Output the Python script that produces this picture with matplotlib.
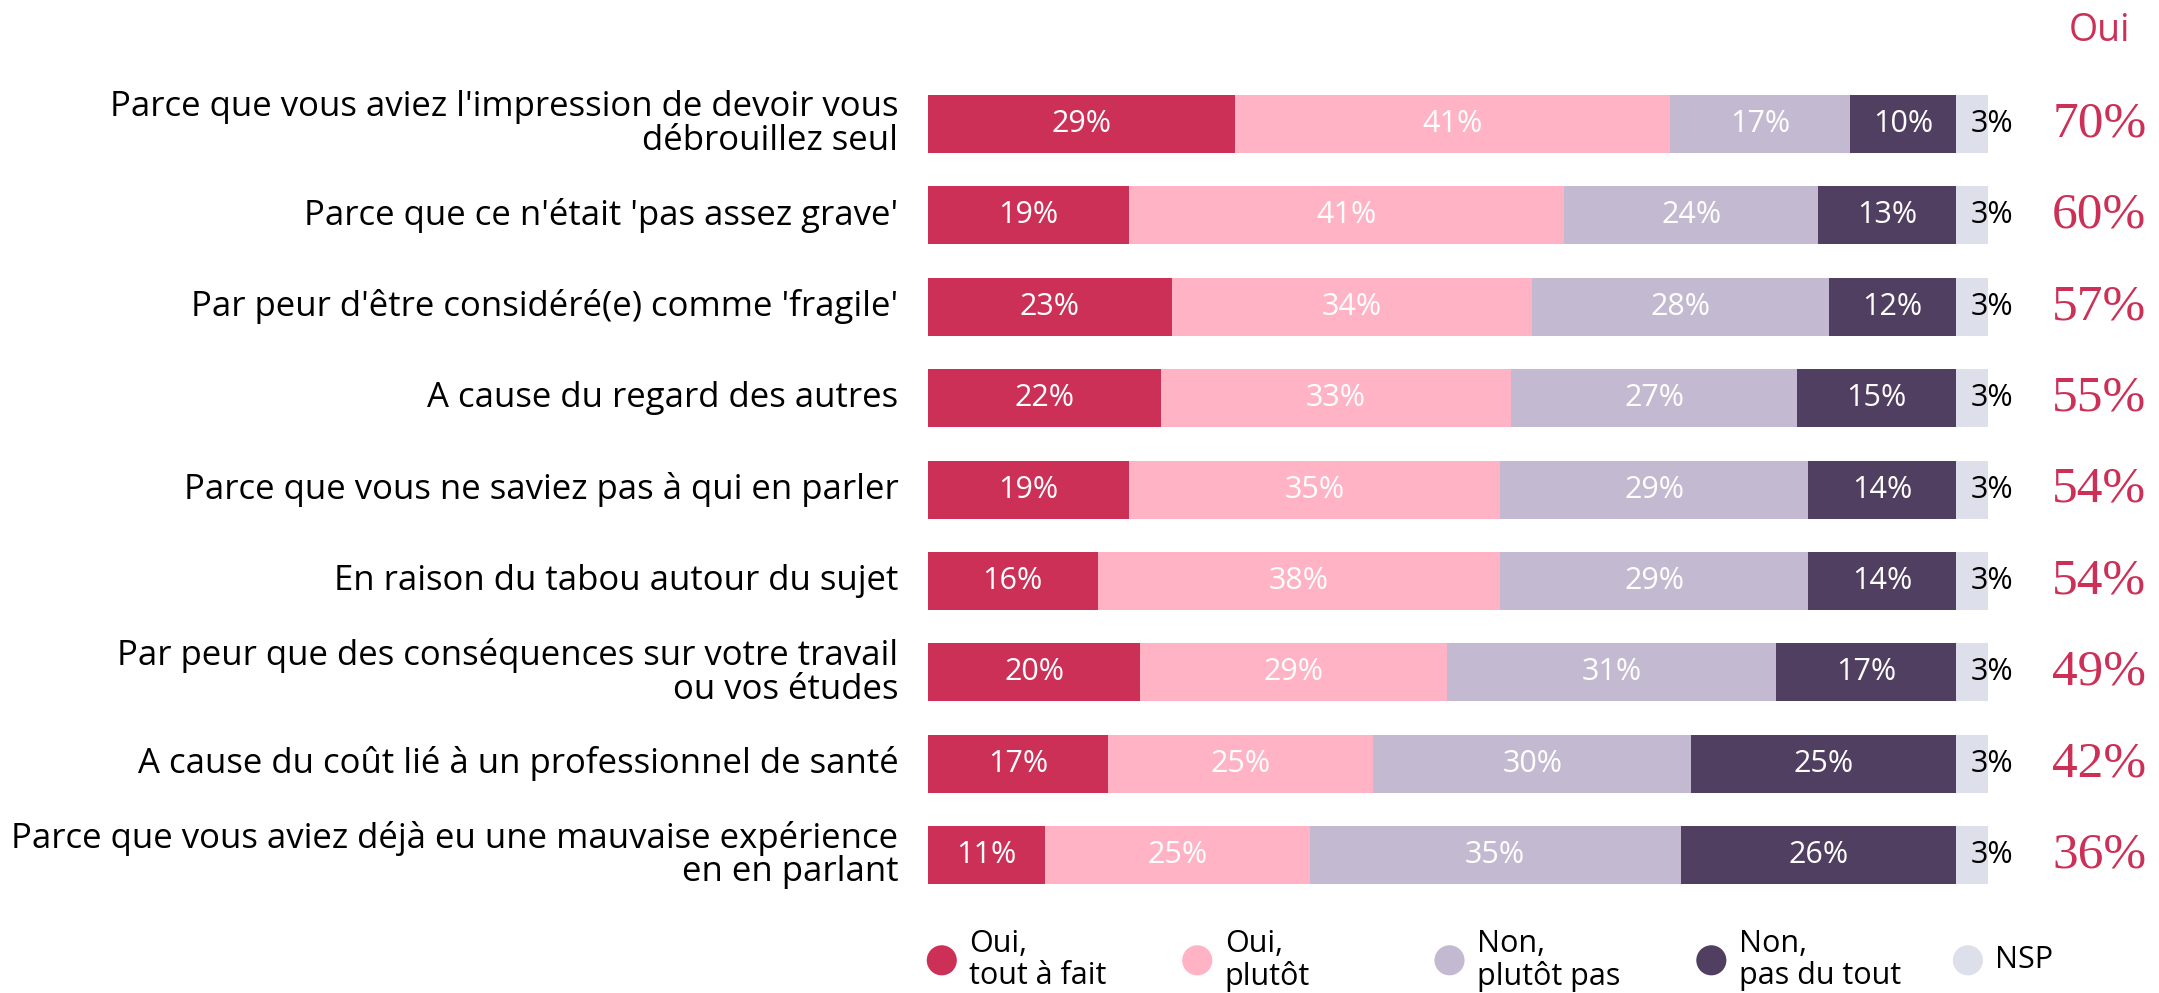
import numpy as np
import matplotlib.pyplot as plt

plt.rcParams['font.family'] = ['Open Sans', 'DejaVu Sans']

categories = [
    "Parce que vous aviez l'impression de devoir vous\ndébrouillez seul",
    "Parce que ce n'était 'pas assez grave'",
    "Par peur d'être considéré(e) comme 'fragile'",
    "A cause du regard des autres",
    "Parce que vous ne saviez pas à qui en parler",
    "En raison du tabou autour du sujet",
    "Par peur que des conséquences sur votre travail\nou vos études",
    "A cause du coût lié à un professionnel de santé",
    "Parce que vous aviez déjà eu une mauvaise expérience\nen en parlant",
]
oui_tout = [29, 19, 23, 22, 19, 16, 20, 17, 11]
oui_plutot = [41, 41, 34, 33, 35, 38, 29, 25, 25]
non_plutot = [17, 24, 28, 27, 29, 29, 31, 30, 35]
non_pas = [10, 13, 12, 15, 14, 14, 17, 25, 26]
nsp = [3, 3, 3, 3, 3, 3, 3, 3, 3]
oui_total = [70, 60, 57, 55, 54, 54, 49, 42, 36]

series_names = ["Oui,\ntout à fait", "Oui,\nplutôt", "Non,\nplutôt pas",
                "Non,\npas du tout", "NSP"]
colors = ["#CC3057", "#FFB3C5", "#C3B9D0", "#503F61", "#DDDFEA"]

W, H = 2159, 993
fig = plt.figure(figsize=(W / 100, H / 100), dpi=100)
# axes spans the bar area horizontally, full figure vertically
ax = fig.add_axes([928 / W, 0, 1060 / W, 1])
row0, step = 124, 91.4
ax.set_xlim(0, 100)
ax.set_ylim((H - row0) / step, -row0 / step)
ax.axis('off')

y = np.arange(len(categories))
data = [oui_tout, oui_plutot, non_plutot, non_pas, nsp]
left = np.zeros(len(categories))
for k, vals in enumerate(data):
    vals = np.array(vals, dtype=float)
    ax.barh(y, vals, left=left, height=0.635, color=colors[k], edgecolor='none')
    for i, v in enumerate(vals):
        if k < 4:
            ax.text(left[i] + v / 2, y[i], f"{v:.0f}%", ha='center', va='center',
                    color='white', fontsize=22)
        else:
            ax.text(left[i] + v + 0.4, y[i], f"{v:.0f}%", ha='center', va='center',
                    color='black', fontsize=22)
    left += vals

for i, cat in enumerate(categories):
    ax.text(-2.8, y[i], cat, ha='right', va='center', fontsize=25,
            color='black', linespacing=0.98, clip_on=False)

for i, t in enumerate(oui_total):
    ax.text(110.5, y[i], f"{t}%", ha='center', va='center', fontsize=37,
            family='Liberation Serif', color='#CC3057', clip_on=False)
ax.text(110.5, -1.02, "Oui", ha='center', va='center', fontsize=27,
        color='#CC3057', clip_on=False)

# legend
leg_x = [1.3, 25.4, 49.2, 73.9, 98.1]
leg_y = 9.15
for k in range(5):
    ax.scatter([leg_x[k]], [leg_y], s=470, color=colors[k], clip_on=False,
               edgecolors='none')
    ax.text(leg_x[k] + 2.6, leg_y, series_names[k], ha='left', va='center',
            fontsize=22, linespacing=1.1, clip_on=False)

fig.savefig("out.png", dpi=100)
